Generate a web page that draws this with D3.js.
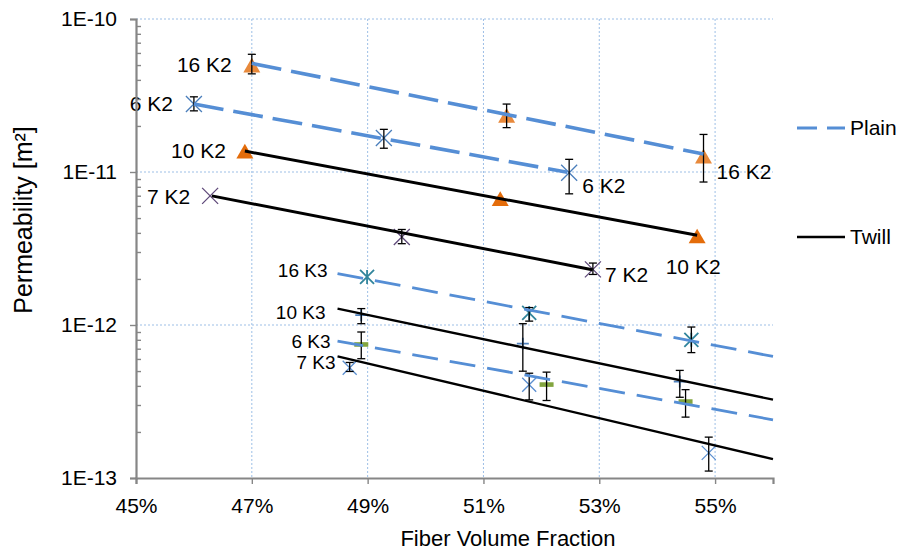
<!DOCTYPE html>
<html>
<head>
<meta charset="utf-8">
<script src="https://cdn.jsdelivr.net/npm/d3@7"></script>
<style>
body { margin: 0; background: #fff; }
text { font-family: "Liberation Sans", Arial, sans-serif; fill: #000; }
</style>
</head>
<body>
<div id="chart"></div>
<script>
// ---- data ----
const xTicks = [0.45, 0.47, 0.49, 0.51, 0.53, 0.55];
const yTicks = [1e-13, 1e-12, 1e-11, 1e-10];
const legendNames = ["Plain", "Twill"];

const fvf16K2 = [0.470, 0.514, 0.548];
const perm16K2 = [5.0e-11, 2.35e-11, 1.27e-11];
const hi16K2 = [5.88e-11, 2.78e-11, 1.76e-11];
const lo16K2 = [4.38e-11, 1.95e-11, 8.6e-12];
const trend16K2 = [[0.470, 5.13e-11], [0.548, 1.31e-11]];

const fvf6K2 = [0.460, 0.4928, 0.5248];
const perm6K2 = [2.78e-11, 1.67e-11, 9.9e-12];
const hi6K2 = [3.10e-11, 1.90e-11, 1.21e-11];
const lo6K2 = [2.51e-11, 1.43e-11, 7.2e-12];
const trend6K2 = [[0.460, 2.78e-11], [0.5245, 9.97e-12]];

const fvf10K2 = [0.4688, 0.5129, 0.5469];
const perm10K2 = [1.37e-11, 6.7e-12, 3.82e-12];
const trend10K2 = [[0.4688, 1.37e-11], [0.5469, 3.86e-12]];

const fvf7K2 = [0.4628, 0.4959, 0.5289];
const perm7K2 = [6.98e-12, 3.76e-12, 2.31e-12];
const hi7K2 = [null, 4.21e-12, 2.54e-12];
const lo7K2 = [null, 3.40e-12, 2.14e-12];
const trend7K2 = [[0.4631, 6.98e-12], [0.5288, 2.30e-12]];

const fvf16K3 = [0.4899, 0.5179, 0.5459];
const perm16K3 = [2.06e-12, 1.20e-12, 8.0e-13];
const hi16K3 = [null, 1.30e-12, 9.7e-13];
const lo16K3 = [null, 1.06e-12, 6.6e-13];
const trend16K3 = [[0.4848, 2.17e-12], [0.56, 6.23e-13]];

const fvf10K3 = [0.4889, 0.5168, 0.5439];
const perm10K3 = [1.16e-12, 7.55e-13, 4.27e-13];
const hi10K3 = [1.28e-12, 1.02e-12, 5.05e-13];
const lo10K3 = [1.02e-12, 4.99e-13, 3.37e-13];
const trend10K3 = [[0.4848, 1.28e-12], [0.56, 3.25e-13]];

const fvf6K3 = [0.4889, 0.5209, 0.5449];
const perm6K3 = [7.46e-13, 4.08e-13, 3.16e-13];
const hi6K3 = [9.0e-13, 4.92e-13, 3.78e-13];
const lo6K3 = [6.02e-13, 3.21e-13, 2.50e-13];
const trend6K3 = [[0.4848, 7.85e-13], [0.56, 2.40e-13]];

const fvf7K3 = [0.4869, 0.5179, 0.5489];
const perm7K3 = [5.26e-13, 4.07e-13, 1.46e-13];
const hi7K3 = [5.69e-13, 4.84e-13, 1.85e-13];
const lo7K3 = [4.97e-13, 3.24e-13, 1.11e-13];
const trend7K3 = [[0.4848, 6.23e-13], [0.56, 1.33e-13]];

// ---- series table (data + look) ----
const series = [
    { name: "16 K2", x: fvf16K2, y: perm16K2, hi: hi16K2, lo: lo16K2, trend: trend16K2, weave: "Plain", marker: "triangle", color: "#E8893B", big: true },
    { name: "6 K2", x: fvf6K2, y: perm6K2, hi: hi6K2, lo: lo6K2, trend: trend6K2, weave: "Plain", marker: "x", color: "#4A7EBB", big: true },
    { name: "10 K2", x: fvf10K2, y: perm10K2, hi: null, lo: null, trend: trend10K2, weave: "Twill", marker: "triangle", color: "#E46C0A", big: true },
    { name: "7 K2", x: fvf7K2, y: perm7K2, hi: hi7K2, lo: lo7K2, trend: trend7K2, weave: "Twill", marker: "x", color: "#5F497A", big: true },
    { name: "16 K3", x: fvf16K3, y: perm16K3, hi: hi16K3, lo: lo16K3, trend: trend16K3, weave: "Plain", marker: "star", color: "#31859C", big: false },
    { name: "10 K3", x: fvf10K3, y: perm10K3, hi: hi10K3, lo: lo10K3, trend: trend10K3, weave: "Twill", marker: "plus", color: "#4F81BD", big: false },
    { name: "6 K3", x: fvf6K3, y: perm6K3, hi: hi6K3, lo: lo6K3, trend: trend6K3, weave: "Plain", marker: "dash", color: "#82A53F", big: false },
    { name: "7 K3", x: fvf7K3, y: perm7K3, hi: hi7K3, lo: lo7K3, trend: trend7K3, weave: "Twill", marker: "x", color: "#5B8FD0", big: false }
];

// where each data label sits relative to its point (i) or to the trendline start ("t")
const labelLayout = {
    "16 K2": [{ at: 0, anchor: "end", dx: -20, dy: 0 }, { at: 2, anchor: "start", dx: 13, dy: 16 }],
    "6 K2": [{ at: 0, anchor: "end", dx: -21, dy: 0 }, { at: 2, anchor: "start", dx: 13, dy: 13 }],
    "10 K2": [{ at: 0, anchor: "end", dx: -19, dy: 0 }, { at: 2, anchor: "middle", dx: -4, dy: 31 }],
    "7 K2": [{ at: 0, anchor: "end", dx: -20, dy: 1 }, { at: 2, anchor: "start", dx: 12, dy: 5 }],
    "16 K3": [{ at: "t", anchor: "end", dx: -10, dy: -3 }],
    "10 K3": [{ at: "t", anchor: "end", dx: -12, dy: 4 }],
    "6 K3": [{ at: "t", anchor: "end", dx: -7, dy: 0 }],
    "7 K3": [{ at: "t", anchor: "end", dx: -2, dy: 6 }]
};

const size = { width: 900, height: 550, left: 136, right: 773, top: 19, bottom: 478 };
const axisColor = "#868686";
const gridColor = "#9DBFE6";
const plainColor = "#558ED5";

const svg = d3.select("#chart").append("svg")
    .attr("width", size.width)
    .attr("height", size.height);

const xScale = d3.scaleLinear().domain([0.45, 0.56]).range([size.left, size.right]);
const yScale = d3.scaleLog().domain([1e-13, 1e-10]).range([size.bottom, size.top]);

// gridlines
const grid = svg.append("g");
grid.selectAll("line.vg")
    .data(xTicks.slice(1))
    .enter().append("line")
    .attr("x1", d => xScale(d)).attr("x2", d => xScale(d))
    .attr("y1", size.top).attr("y2", size.bottom)
    .attr("stroke", gridColor).attr("stroke-width", 1).attr("stroke-dasharray", "2,2");
grid.selectAll("line.hg")
    .data(yTicks.slice(1))
    .enter().append("line")
    .attr("x1", size.left).attr("x2", size.right)
    .attr("y1", d => yScale(d)).attr("y2", d => yScale(d))
    .attr("stroke", gridColor).attr("stroke-width", 1).attr("stroke-dasharray", "2,2");

// markers
function markerPath(kind, big) {
    const h = big ? 8 : 7;
    if (kind === "x") return `M${-h},${-h}L${h},${h}M${-h},${h}L${h},${-h}`;
    if (kind === "star") return `M${-h},${-h}L${h},${h}M${-h},${h}L${h},${-h}M0,${-h}L0,${h}`;
    if (kind === "plus") return `M-6,0L6,0M0,-6L0,6`;
    return null;
}

series.forEach(s => {
    const g = svg.append("g");
    const pts = s.x.map((xv, i) => ({ x: xv, y: s.y[i] }));
    if (s.marker === "triangle") {
        g.selectAll("path").data(pts).enter().append("path")
            .attr("d", d3.symbol(d3.symbolTriangle, 125))
            .attr("transform", d => `translate(${xScale(d.x)},${yScale(d.y) + 2.5})`)
            .attr("fill", s.color);
    } else if (s.marker === "dash") {
        g.selectAll("rect").data(pts).enter().append("rect")
            .attr("x", d => xScale(d.x) - 7).attr("y", d => yScale(d.y) - 2.3)
            .attr("width", 14).attr("height", 4.6)
            .attr("fill", s.color);
    } else {
        g.selectAll("path").data(pts).enter().append("path")
            .attr("d", markerPath(s.marker, s.big))
            .attr("transform", d => `translate(${xScale(d.x)},${yScale(d.y)})`)
            .attr("fill", "none").attr("stroke", s.color).attr("stroke-width", s.marker === "x" ? 1.3 : 1.8);
    }
});

// error bars
series.forEach(s => {
    if (!s.hi) return;
    const bars = s.x.map((xv, i) => ({ x: xv, hi: s.hi[i], lo: s.lo[i] })).filter(d => d.hi !== null);
    const g = svg.append("g").attr("stroke", "#000").attr("stroke-width", 1.3);
    bars.forEach(d => {
        const cx = xScale(d.x);
        g.append("line").attr("x1", cx).attr("x2", cx).attr("y1", yScale(d.hi)).attr("y2", yScale(d.lo));
        g.append("line").attr("x1", cx - 4).attr("x2", cx + 4).attr("y1", yScale(d.hi)).attr("y2", yScale(d.hi));
        g.append("line").attr("x1", cx - 4).attr("x2", cx + 4).attr("y1", yScale(d.lo)).attr("y2", yScale(d.lo));
    });
});

// trendlines
const line = d3.line().x(d => xScale(d[0])).y(d => yScale(d[1]));
series.forEach(s => {
    const p = svg.append("path")
        .datum(s.trend)
        .attr("d", line)
        .attr("fill", "none");
    if (s.weave === "Plain") {
        p.attr("stroke", plainColor)
            .attr("stroke-width", s.big ? 3.6 : 2.8)
            .attr("stroke-dasharray", s.big ? "30,10" : "26,12");
    } else {
        p.attr("stroke", "#000").attr("stroke-width", s.big ? 3 : 2.4);
    }
});

// data labels
series.forEach(s => {
    labelLayout[s.name].forEach(l => {
        const px = l.at === "t" ? xScale(s.trend[0][0]) : xScale(s.x[l.at]);
        const py = l.at === "t" ? yScale(s.trend[0][1]) : yScale(s.y[l.at]);
        svg.append("text")
            .attr("x", px + l.dx)
            .attr("y", py + l.dy)
            .attr("dy", "0.35em")
            .attr("text-anchor", l.anchor)
            .attr("font-size", s.big ? 21 : 19)
            .text(s.name);
    });
});

// axes
const yAxis = d3.axisLeft(yScale)
    .tickValues(yTicks)
    .tickFormat(d => "1E" + Math.round(Math.log10(d)))
    .tickSize(6)
    .tickPadding(13);
const yMinor = d3.axisRight(yScale)
    .tickValues(yScale.ticks().filter(d => !yTicks.includes(d)))
    .tickFormat("")
    .tickSize(5);
const xAxis = d3.axisBottom(xScale)
    .tickValues(xTicks)
    .tickFormat(d3.format(".0%"))
    .tickSize(6)
    .tickPadding(14);

const gy = svg.append("g").attr("transform", `translate(${size.left},0)`).call(yAxis);
const gyMinor = svg.append("g").attr("transform", `translate(${size.left},0)`).call(yMinor);
const gx = svg.append("g").attr("transform", `translate(0,${size.bottom})`).call(xAxis);

[gy, gyMinor, gx].forEach(g => {
    g.select(".domain").attr("stroke", axisColor).attr("stroke-width", 2.2);
    g.selectAll(".tick line").attr("stroke", axisColor).attr("stroke-width", 1.4);
    g.selectAll(".tick text").attr("font-size", 21).attr("font-family", "Liberation Sans, Arial, sans-serif").attr("fill", "#000");
});
gyMinor.select(".domain").remove();

// axis titles
svg.append("text")
    .attr("x", 508)
    .attr("y", 546)
    .attr("text-anchor", "middle")
    .attr("font-size", 22)
    .text("Fiber Volume Fraction");

svg.append("text")
    .attr("transform", "translate(32,220) rotate(-90)")
    .attr("text-anchor", "middle")
    .attr("font-size", 25)
    .text("Permeability [m²]");

// legend
const legend = svg.append("g");
legendNames.forEach((name, i) => {
    const ly = i === 0 ? 128 : 237;
    const l = legend.append("line")
        .attr("x1", 797).attr("x2", 845)
        .attr("y1", ly).attr("y2", ly);
    if (name === "Plain") {
        l.attr("stroke", plainColor).attr("stroke-width", 3).attr("stroke-dasharray", "20,10");
    } else {
        l.attr("stroke", "#000").attr("stroke-width", 2.5);
    }
    legend.append("text")
        .attr("x", 850)
        .attr("y", ly)
        .attr("dy", "0.35em")
        .attr("font-size", 21)
        .text(name);
});
</script>
</body>
</html>
